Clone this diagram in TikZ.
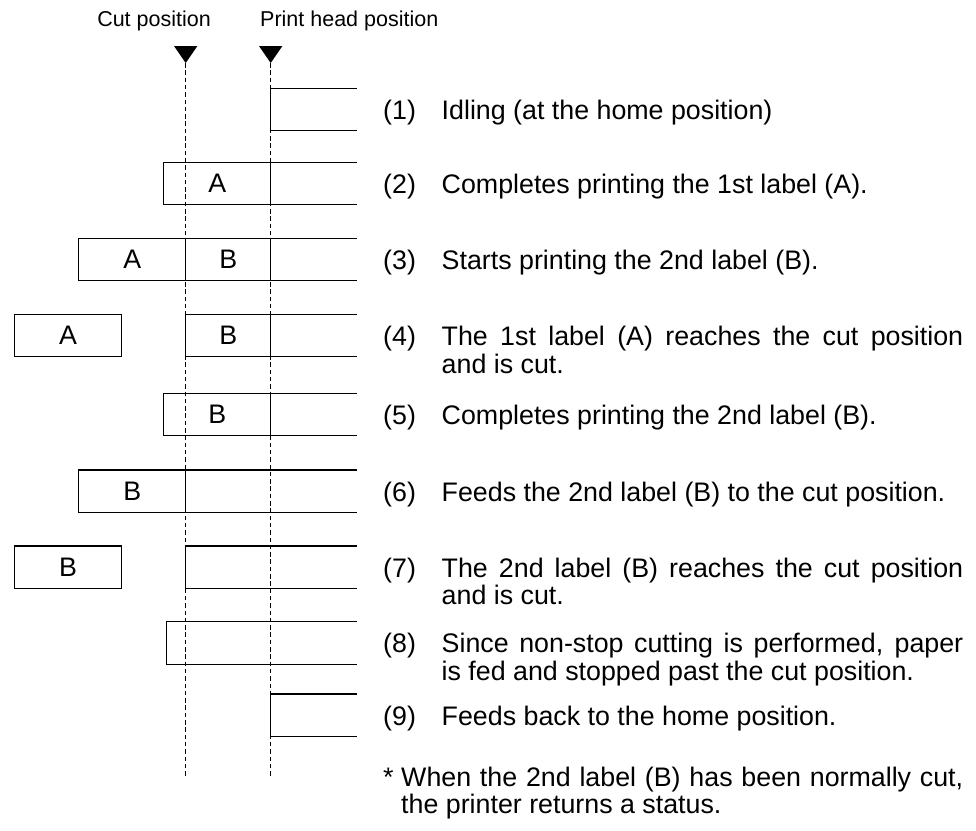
\documentclass[tikz,border=0pt]{standalone}
\usepackage{fontspec}
\setmainfont{Liberation Sans}
\usetikzlibrary{positioning,calc}

\begin{document}
\begin{tikzpicture}[x=1pt,y=-1pt,
  paper/.style={line width=1.3pt},
  guide/.style={line width=1.1pt,dash pattern=on 4.5pt off 2.8pt},
  txt/.style={font=\fontsize{26.8}{27.5}\selectfont,inner sep=0pt},
  num/.style={txt,anchor=base west},
  desc/.style={txt,anchor=base west,text width=521.5pt,align=justify},
  lab/.style={txt,anchor=center},
  cutbox/.style={paper,draw,minimum width=107.4pt,minimum height=42.5pt,inner sep=0pt},
  hd/.style={font=\fontsize{21.5}{24}\selectfont,inner sep=0pt}]

\useasboundingbox (0,0) rectangle (976,830);

% position markers
\node[hd,anchor=base east] (cutlbl) at (211,26.7) {Cut position};
\node[hd,anchor=base west] (headlbl) at (260,26.7) {Print head position};
\fill (174,46) -- (197.4,46) -- (185.7,63) -- cycle;
\fill (259,46) -- (282.4,46) -- (270.7,63) -- cycle;
\coordinate (cuttop) at (185.7,63);
\coordinate (headtop) at (270.7,63);
\coordinate (cutend) at (185.7,778);
\coordinate (headend) at (270.7,778);

% paper strips
\draw[paper] (357,88.3) -| (270.7,130.8) -- (357,130.8);
\draw[paper] (357,162.3) -| (163.7,204.8) -- (357,204.8);
\draw[paper] (270.7,162.3) -- (270.7,204.8);
\draw[paper] (357,238.3) -| (78.7,280.8) -- (357,280.8);
\draw[paper] (185.7,238.3) -- (185.7,280.8) (270.7,238.3) -- (270.7,280.8);
\node[cutbox] (boxA) at (68,335.55) {};
\draw[paper] (357,314.3) -| (185.7,356.8) -- (357,356.8);
\draw[paper] (270.7,314.3) -- (270.7,356.8);
\draw[paper] (357,393.3) -| (163.7,435.8) -- (357,435.8);
\draw[paper] (270.7,393.3) -- (270.7,435.8);
\draw[paper] (357,470) -| (78.7,512.5) -- (357,512.5);
\draw[paper] (185.7,470) -- (185.7,512.5);
\node[cutbox] (boxB) at (68,567.25) {};
\draw[paper] (357,546) -| (185.7,588.5) -- (357,588.5);
\draw[paper] (357,621.7) -| (166.3,664.2) -- (357,664.2);
\draw[paper] (357,694) -| (270.7,736.5) -- (357,736.5);

\draw[guide] (cuttop) -- (cutend);
\draw[guide] (headtop) -- (headend);

% label letters
\node[lab] at (217.2,183.55) {A};
\node[lab] at (132.2,259.55) {A};
\node[lab] at (228.2,259.55) {B};
\node[lab] at (boxA.center) {A};
\node[lab] at (228.2,335.55) {B};
\node[lab] at (217.2,414.55) {B};
\node[lab] at (132.2,491.25) {B};
\node[lab] at (boxB.center) {B};

% descriptions
\node[num] (n1) at (383,119.5) {(1)};
\node[desc] (d1) at (441.5,119.5) {Idling (at the home position)};
\node[num] (n2) at (383,193.5) {(2)};
\node[desc] (d2) at (441.5,193.5) {Completes printing the 1st label (A).};
\node[num] (n3) at (383,269.5) {(3)};
\node[desc] (d3) at (441.5,269.5) {Starts printing the 2nd label (B).};
\node[num] (n4) at (383,345.5) {(4)};
\node[desc] (d4) at (441.5,345.5) {The 1st label (A) reaches the cut position\linebreak and is cut.};
\node[num] (n5) at (383,424.5) {(5)};
\node[desc] (d5) at (441.5,424.5) {Completes printing the 2nd label (B).};
\node[num] (n6) at (383,501.2) {(6)};
\node[desc] (d6) at (441.5,501.2) {Feeds the 2nd label (B) to the cut position.};
\node[num] (n7) at (383,577.2) {(7)};
\node[desc] (d7) at (441.5,577.2) {The 2nd label (B) reaches the cut position\linebreak and is cut.};
\node[num] (n8) at (383,652.9) {(8)};
\node[desc] (d8) at (441.5,652.9) {Since non-stop cutting is performed, paper\linebreak is fed and stopped past the cut position.};
\node[num] (n9) at (383,725.2) {(9)};
\node[desc] (d9) at (441.5,725.2) {Feeds back to the home position.};

% status note
\node[num] (star) at (383,786) {*};
\node[txt,anchor=base west,text width=562pt,align=justify] (note) at (401,786) {When the 2nd label (B) has been normally cut,\linebreak the printer returns a status.};

\end{tikzpicture}
\end{document}
